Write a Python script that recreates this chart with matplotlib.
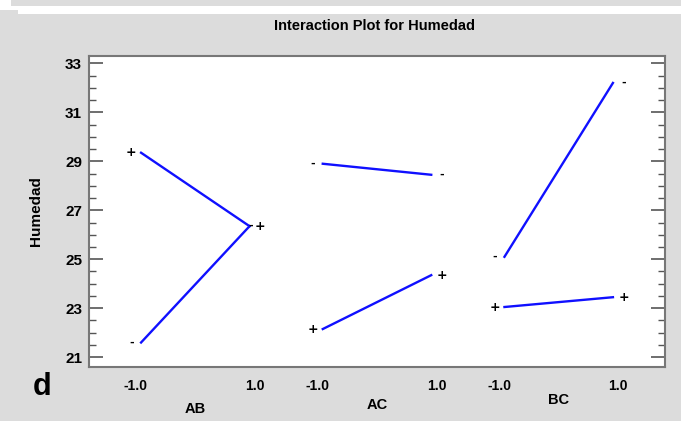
import matplotlib.pyplot as plt
from matplotlib.patches import Rectangle
from matplotlib.ticker import MultipleLocator

# interaction data
factors = ['AB', 'AC', 'BC']
levels = [-1.0, 1.0]
plus_vals = [[29.35, 26.35], [22.15, 24.35], [23.05, 23.45]]
minus_vals = [[21.6, 26.35], [28.9, 28.45], [25.1, 32.2]]
tick_labels = ['-1.0', '1.0']

gap = 3.35
bg = '#dcdcdc'
fnt = 'Liberation Sans'

fig = plt.figure(figsize=(6.81, 4.21), dpi=100, facecolor=bg)

# strips at the top of the screenshot
fig.patches.append(Rectangle((0, 1 - 10 / 421), 11 / 681, 10 / 421, transform=fig.transFigure,
                             facecolor='white', edgecolor='none'))
fig.patches.append(Rectangle((11 / 681, 1 - 10 / 421), 1, 4 / 421, transform=fig.transFigure,
                             facecolor='white', edgecolor='none'))
fig.patches.append(Rectangle((18 / 681, 1 - 14 / 421), 1, 4 / 421, transform=fig.transFigure,
                             facecolor='white', edgecolor='none'))

ax = fig.add_axes([89 / 681, 1 - 367 / 421, 576 / 681, 311 / 421])
ax.set_facecolor('white')

for i, f in enumerate(factors):
    xs = [i * gap + lv for lv in levels]
    ax.plot(xs, plus_vals[i], color='#1010ff', lw=1.7)
    ax.plot(xs, minus_vals[i], color='#1010ff', lw=1.7)
    for j, x in enumerate(xs):
        dx = -0.18 if j == 0 else 0.2
        ax.text(x + dx, plus_vals[i][j], '+', ha='center', va='center',
                fontsize=9, fontweight='bold', color='black', family='DejaVu Sans')
        # the AB "-" at 1.0 sits right at the line end, beside the "+"
        mdx = 0.02 if (i == 0 and j == 1) else dx
        ax.text(x + mdx, minus_vals[i][j], '-', ha='center', va='center',
                fontsize=8, fontweight='bold', color='black')

# group names below the tick labels
name_y = [409, 405, 400]
for i, f in enumerate(factors):
    fig.text((89 + (i * gap + 1.96) * 576 / (2 * gap + 3.92)) / 681, 1 - name_y[i] / 421, f,
             ha='center', va='center', fontsize=10.5, fontweight='bold', family=fnt)

xt = []
xl = []
for i in range(len(factors)):
    for lv, lab in zip(levels, tick_labels):
        xt.append(i * gap + lv * 1.1)
        xl.append(lab)
ax.set_xticks(xt)
ax.set_xticklabels(xl, fontsize=10, fontweight='bold', family=fnt)
ax.tick_params(axis='x', length=0, pad=9)

ax.set_xlim(-1.96, 2 * gap + 1.96)
ax.set_ylim(20.6, 33.3)
ax.set_yticks([21, 23, 25, 27, 29, 31, 33])
ax.yaxis.set_minor_locator(MultipleLocator(0.5))
ax.tick_params(axis='y', which='major', direction='in', length=10, width=1.2,
               right=True, labelsize=11, color='#555555', pad=5)
ax.tick_params(axis='y', which='minor', direction='in', length=5, width=1,
               right=True, color='#555555')
for lab in ax.get_yticklabels():
    lab.set_fontweight('bold')
    lab.set_family(fnt)
for s in ax.spines.values():
    s.set_color('#777777')
    s.set_linewidth(1.5)

ax.set_ylabel('Humedad', fontsize=11, fontweight='bold', family=fnt, labelpad=16)
fig.text(375 / 681, 1 - 26 / 421, 'Interaction Plot for Humedad', ha='center', va='center',
         fontsize=10.5, fontweight='bold', family=fnt)
fig.text(42 / 681, 1 - 387 / 421, 'd', ha='center', va='center', fontsize=22,
         fontweight='bold', family=fnt)

fig.savefig('out.png', dpi=100, facecolor=bg)
